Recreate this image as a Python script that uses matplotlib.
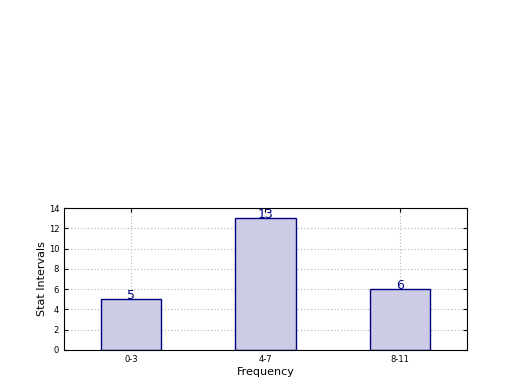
import numpy as np
import matplotlib
matplotlib.use("Agg")
import matplotlib.pyplot as plt

categories = ["0-3", "4-7", "8-11"]
counts = [5, 13, 6]
y_ticks = [0, 2, 4, 6, 8, 10, 12, 14]

fig = plt.figure(figsize=(5.2, 3.9), dpi=100)
ax = fig.add_axes([0.123, 0.1026, 0.775, 0.364])

x = np.arange(len(categories))
bars = ax.bar(x, counts, width=0.45, color=(0.8, 0.8, 0.9),
              edgecolor="navy", linewidth=1, zorder=2)

for xi, c in zip(x, counts):
    ax.text(xi, c - 0.3, str(c), ha="center", va="bottom",
            color="navy", fontsize=9, zorder=3)

ax.set_xlim(-0.5, 2.5)
ax.set_ylim(0, 14)
ax.set_xticks(x)
ax.set_xticklabels(categories)
ax.set_yticks(y_ticks)
ax.tick_params(direction="in", top=True, right=True, labelsize=6, length=3)
ax.grid(True, linestyle=(0, (1, 2)), color="0.7", linewidth=0.8, zorder=0)
ax.set_axisbelow(True)

ax.set_xlabel("Frequency", fontsize=8, labelpad=2)
ax.set_ylabel("Stat Intervals", fontsize=8, labelpad=1)

fig.savefig("out.png", dpi=100, facecolor="white")
